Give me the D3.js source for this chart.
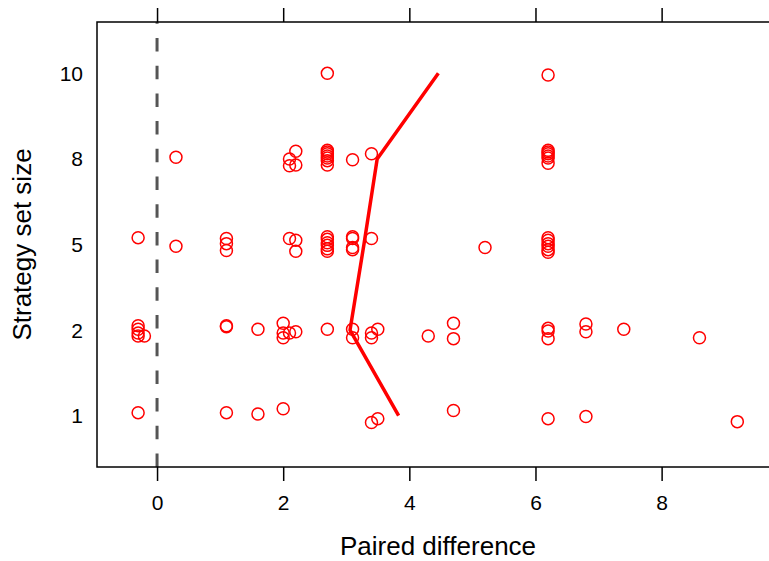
<!DOCTYPE html>
<html>
<head>
<meta charset="utf-8">
<script src="https://cdn.jsdelivr.net/npm/d3@7"></script>
<style>
  body { margin: 0; background: #fff; }
  text { font-family: "Liberation Sans", Arial, Helvetica, sans-serif; }
</style>
</head>
<body>
<div id="chart"></div>
<script>

// strategy set sizes shown on the y axis (one row each)
const sizeLevels = [1, 2, 5, 8, 10];
const xTicks = [0, 2, 4, 6, 8];

// mean paired difference for each set size (the red line)
const meanDiff = [3.83, 3.06, 3.28, 3.49, 4.46];

// points per set size: [paired difference, vertical jitter]
const size1Points = [[-0.3, 0.035], [1.1, 0.035], [1.6, 0.02], [2.0, 0.08], [3.4, -0.08],
  [3.5, -0.035], [4.7, 0.06], [6.2, -0.035], [6.8, -0.01], [9.2, -0.07]];
const size2Points = [[-0.3, 0.05], [-0.3, 0.01], [-0.3, -0.035], [-0.3, -0.07], [-0.2, -0.07],
  [1.1, 0.05], [1.1, 0.04], [1.6, 0.01], [2.0, 0.08], [2.0, -0.035], [2.0, -0.09],
  [2.1, -0.035], [2.2, -0.02], [2.7, 0.01], [3.1, 0.01], [3.1, -0.09], [3.4, -0.035],
  [3.4, -0.09], [3.5, 0.01], [4.3, -0.07], [4.7, 0.08], [4.7, -0.1], [6.2, 0.02],
  [6.2, -0.01], [6.2, -0.1], [6.8, 0.07], [6.8, -0.02], [7.4, 0.01], [8.6, -0.09]];
const size5Points = [[-0.3, 0.08], [0.3, -0.02], [1.1, 0.07], [1.1, 0.01], [1.1, -0.07],
  [2.1, 0.07], [2.2, 0.05], [2.2, -0.08], [2.7, 0.09], [2.7, 0.06], [2.7, 0.02],
  [2.7, -0.01], [2.7, -0.05], [2.7, -0.08], [3.1, 0.09], [3.1, 0.07], [3.1, -0.035],
  [3.1, -0.06], [3.4, 0.07], [5.2, -0.035], [6.2, 0.08], [6.2, 0.05], [6.2, 0.01],
  [6.2, -0.02], [6.2, -0.06], [6.2, -0.09]];
const size8Points = [[0.3, 0.02], [2.1, 0], [2.1, -0.08], [2.2, 0.09], [2.2, -0.07],
  [2.7, 0.1], [2.7, 0.08], [2.7, 0.06], [2.7, 0.035], [2.7, 0.01], [2.7, -0.02],
  [2.7, -0.07], [3.1, -0.01], [3.4, 0.06], [6.2, 0.1], [6.2, 0.08], [6.2, 0.06],
  [6.2, 0.035], [6.2, 0.01], [6.2, -0.05]];
const size10Points = [[2.7, 0], [6.2, -0.02]];

const width = 769;
const height = 561;
const margin = {left: 97, right: -3, top: 22, bottom: 94};

const svg = d3.select("#chart")
  .append("svg")
  .attr("width", width)
  .attr("height", height);

// x is the paired difference, y is the row index (1..5) plus jitter
const xScale = d3.scaleLinear()
  .domain([-0.952, 9.75])
  .range([margin.left, width - margin.right]);

const yScale = d3.scaleLinear()
  .domain([0.4, 5.6])
  .range([height - margin.bottom, margin.top]);

// flatten the rows into one list of points
const rows = [size1Points, size2Points, size5Points, size8Points, size10Points];
const points = [];
rows.forEach((row, i) => {
  row.forEach(p => points.push({diff: p[0], pos: i + 1 + p[1]}));
});

// dashed reference line at zero
svg.append("line")
  .attr("x1", xScale(0)).attr("x2", xScale(0))
  .attr("y1", yScale(0.4)).attr("y2", yScale(5.6))
  .attr("stroke", "#555")
  .attr("stroke-width", 3)
  .attr("stroke-dasharray", "13.5,14.2");

// points
svg.selectAll("circle")
  .data(points)
  .enter()
  .append("circle")
    .attr("cx", d => xScale(d.diff))
    .attr("cy", d => yScale(d.pos))
    .attr("r", 6)
    .attr("fill", "none")
    .attr("stroke", "#ff0000")
    .attr("stroke-width", 1.5);

// mean line
const line = d3.line()
  .x(d => xScale(d))
  .y((d, i) => yScale(i + 1));

svg.append("path")
  .datum(meanDiff)
  .attr("d", line)
  .attr("fill", "none")
  .attr("stroke", "#ff0000")
  .attr("stroke-width", 3.5)
  .attr("stroke-linejoin", "round");

// plot box
svg.append("rect")
  .attr("x", xScale(-0.952))
  .attr("y", yScale(5.6))
  .attr("width", xScale(9.75) - xScale(-0.952))
  .attr("height", yScale(0.4) - yScale(5.6))
  .attr("fill", "none")
  .attr("stroke", "#000")
  .attr("stroke-width", 1.5);

// bottom axis
const xAxis = svg.append("g")
  .attr("transform", `translate(0,${yScale(0.4)})`)
  .call(d3.axisBottom(xScale).tickValues(xTicks).tickSize(14).tickPadding(14));
xAxis.select(".domain").remove();
xAxis.selectAll("line").attr("stroke-width", 1.5);
xAxis.selectAll("text").attr("font-size", "21px").attr("fill", "#000")
  .style("font-family", "'Liberation Sans', Arial, sans-serif");

// ticks along the top edge, no labels
const topAxis = svg.append("g")
  .attr("transform", `translate(0,${yScale(5.6)})`)
  .call(d3.axisTop(xScale).tickValues(xTicks).tickSize(14).tickFormat(""));
topAxis.select(".domain").remove();
topAxis.selectAll("line").attr("stroke-width", 1.5);

// y labels, no tick marks
svg.append("g")
  .selectAll("text")
  .data(sizeLevels)
  .enter()
  .append("text")
    .attr("x", 83)
    .attr("y", (d, i) => yScale(i + 1))
    .attr("dy", "0.36em")
    .attr("text-anchor", "end")
    .attr("font-size", "21px")
    .text(d => d);

// axis titles
svg.append("text")
  .attr("x", (xScale(-0.952) + width) / 2 + 5)
  .attr("y", 555)
  .attr("text-anchor", "middle")
  .attr("font-size", "26px")
  .text("Paired difference");

svg.append("text")
  .attr("transform", `translate(31,${(yScale(0.4) + yScale(5.6)) / 2}) rotate(-90)`)
  .attr("text-anchor", "middle")
  .attr("font-size", "26px")
  .text("Strategy set size");

</script>
</body>
</html>
